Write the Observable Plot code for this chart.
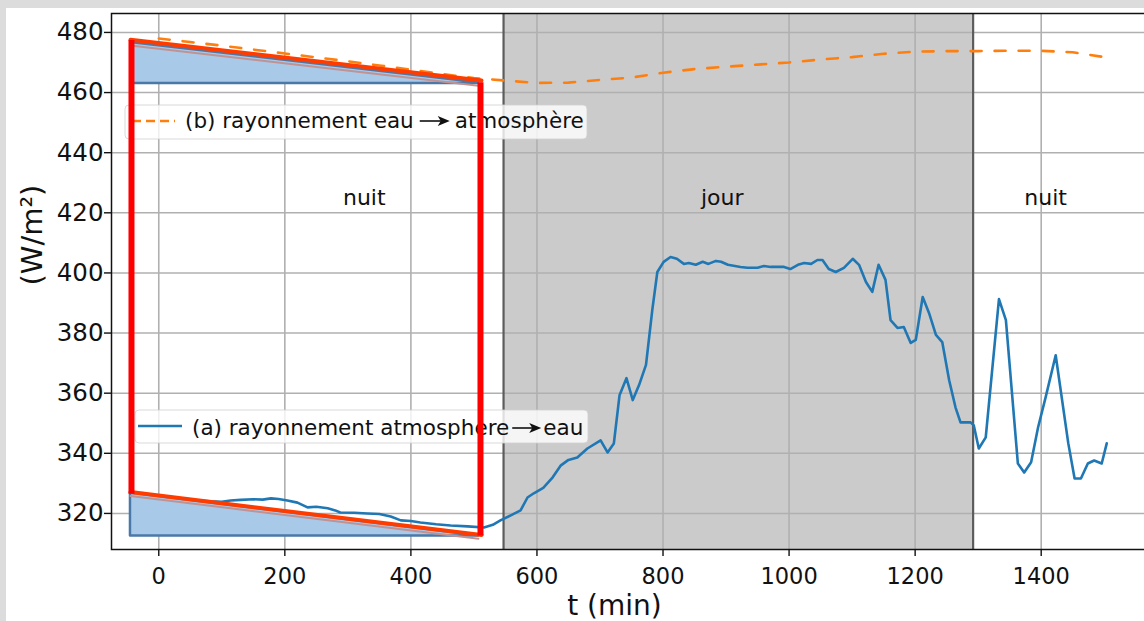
<!DOCTYPE html>
<html><head><meta charset="utf-8">
<script src="https://cdn.jsdelivr.net/npm/d3@7"></script>
<script src="https://cdn.jsdelivr.net/npm/@observablehq/plot@0.6"></script>
<style>
html,body{margin:0;padding:0;background:#dcdcdc;}
#wrap{position:absolute;left:6px;top:8px;width:1138px;height:613px;background:#fff;overflow:hidden;}
svg{font-family:"DejaVu Sans",sans-serif;}
</style></head><body><div id="wrap"></div>
<script>
// (a) rayonnement atmosphere -> eau
const tA = [0,20,40,60,80,100,114,130,150,165,178,190,204,220,236,250,268,280,288,310,331,350,368,384,400,415,440,463,490,516,530,542,560,574,585,595,610,625,638,650,664,680,701,712,722,731,742,752,762,773,783,791,801,812,822,833,841,852,863,872,884,892,903,923,934,950,960,971,992,1002,1014,1024,1035,1045,1053,1063,1074,1087,1101,1111,1122,1132,1142,1153,1161,1172,1182,1193,1201,1212,1222,1233,1243,1254,1264,1272,1288,1293,1301,1312,1333,1344,1363,1373,1384,1395,1407,1423,1443,1453,1463,1474,1484,1496,1504];
const vA = [325.8,325.3,324.8,324.3,324.0,323.9,324.3,324.5,324.7,324.6,325.0,324.8,324.3,323.6,322.0,322.2,321.7,321.0,320.3,320.2,320.0,319.8,319.0,317.7,317.5,317.0,316.4,316.0,315.7,315.3,316.2,317.7,319.5,321.0,325.3,326.7,328.5,332.0,336.0,337.8,338.6,341.6,344.3,340.3,343.3,359.3,365.0,357.7,362.7,369.4,387.7,400.3,403.7,405.3,404.7,403.0,403.3,402.7,403.7,403.0,404.0,403.7,402.7,402.0,401.7,401.7,402.3,402.0,402.0,401.3,402.7,403.3,403.0,404.3,404.3,401.3,400.3,401.7,404.7,402.7,397.0,393.7,402.7,397.7,384.3,381.7,382.0,376.7,377.7,392.0,386.7,379.4,377.0,364.3,355.3,350.3,350.3,349.3,341.6,345.3,391.3,384.3,336.6,333.6,337.0,348.6,358.6,372.6,343.3,331.6,331.6,336.6,337.6,336.6,343.3];
// (b) rayonnement eau -> atmosphère
const tB = [0,50,100,150,200,250,300,350,400,450,500,550,600,650,700,750,800,850,900,950,1000,1050,1100,1150,1200,1250,1300,1350,1400,1450,1500];
const vB = [478.0,476.8,475.6,474.3,473.0,471.7,470.4,469.0,467.6,466.2,464.8,464.0,463.2,463.3,464.2,465.0,466.6,467.8,468.6,469.3,470.0,471.0,471.8,472.9,473.6,473.8,473.8,473.9,473.9,473.4,471.8];
const xTicks = [0,200,400,600,800,1000,1200,1400];
const yTicks = [320,340,360,380,400,420,440,460,480];
const jour = [547,1292];
const periodNames = ["nuit","jour","nuit"];
const periodT = [326,894,1407];
const periodV = [425,425,425];
const legendB = ["(b) rayonnement eau", "atmosphère"];
const legendA = ["(a) rayonnement atmosphere", "eau"];
// annotation overlay (data coordinates)
const triTopT = [-41.7,507.2], triTopV = [476.6,463.3], triTopBase = 463.0;
const triBotT = [-44.9,507.2], triBotV = [326.8,312.6], triBotBase = 312.5;
const redTopT = [-44.9,512], redTopV = [477.6,464.0];
const redBotT = [-44.9,512], redBotV = [327.1,312.8];
const redVT = [-43.3,510.4], redVlo = [326.4,312.5], redVhi = [477.3,463.3];

const X0=-75, X1=1575, Y0=308, Y1=486.3;
const A = tA.map((t,i)=>({t, v:vA[i]}));
const B = tB.map((t,i)=>({t, v:vB[i]}));
const zip = (ts,vs)=>ts.map((t,i)=>({t, v:vs[i]}));
const triTop = zip(triTopT, triTopV), triBot = zip(triBotT, triBotV);
const redTop = zip(redTopT, redTopV), redBot = zip(redBotT, redBotV);
const redV = redVT.map((t,i)=>({t, lo:redVlo[i], hi:redVhi[i]}));
const periods = periodNames.map((n,i)=>({n, t:periodT[i], v:periodV[i]}));
const span = [{a:jour[0], b:jour[1]}];

const plot = Plot.plot({
  width:1146, height:613, marginLeft:105, marginRight:1, marginTop:5, marginBottom:72,
  style:{fontFamily:"DejaVu Sans", background:"transparent", color:"#111", maxWidth:"none"},
  x:{domain:[X0,X1]}, y:{domain:[Y0,Y1]},
  marks:[
    Plot.rect(span, {x1:"a", x2:"b", y1:Y0, y2:Y1, fill:"#cbcbcb"}),
    Plot.gridX(xTicks, {stroke:"#b0b0b0", strokeOpacity:1, strokeWidth:1.6}),
    Plot.gridY(yTicks, {stroke:"#b0b0b0", strokeOpacity:1, strokeWidth:1.6}),
    Plot.ruleX(jour, {y1:Y0, y2:Y1, stroke:"#5c5c5c", strokeWidth:2.2}),
    Plot.frame({stroke:"#111", strokeWidth:1.5}),
    Plot.axisX(xTicks, {fontSize:22.5, tickSize:7, tickPadding:12, strokeWidth:1.4, label:null, tickFormat:d=>String(d)}),
    Plot.axisY(yTicks, {fontSize:24.5, tickSize:7, tickPadding:1, strokeWidth:1.4, label:null, tickFormat:d=>String(d)}),
    Plot.text(["t (min)"], {x:723, frameAnchor:"bottom", dy:65, lineAnchor:"bottom", fontSize:28, fill:"#111"}),
    Plot.text(["(W/m²)"], {y:395.8, frameAnchor:"left", dx:-79, rotate:-90, fontSize:29, fill:"#111"}),
    Plot.text(periods, {x:"t", y:"v", text:"n", fontSize:22, fill:"#111"}),
    Plot.line(B, {x:"t", y:"v", stroke:"#ff7f0e", strokeWidth:2.6, strokeDasharray:"11,13"}),
    Plot.line(A, {x:"t", y:"v", stroke:"#1f77b4", strokeWidth:2.6}),
    Plot.areaY(triTop, {x:"t", y1:triTopBase, y2:"v", fill:"#a9c9e9", stroke:"#4a78a8", strokeWidth:2.5}),
    Plot.areaY(triBot, {x:"t", y1:triBotBase, y2:"v", fill:"#a9c9e9", stroke:"#4a78a8", strokeWidth:2.5}),
    Plot.line(triTop, {x:"t", y:"v", stroke:"#c29292", strokeWidth:2, dy:3}),
    Plot.line(triBot, {x:"t", y:"v", stroke:"#c29292", strokeWidth:2, dy:3}),
    Plot.line(redTop, {x:"t", y:"v", stroke:"#ff3c00", strokeWidth:4}),
    Plot.line(redBot, {x:"t", y:"v", stroke:"#ff3c00", strokeWidth:4}),
    Plot.ruleX(redV, {x:"t", y1:"lo", y2:"hi", stroke:"#ff0000", strokeWidth:6})
  ]
});
document.getElementById("wrap").appendChild(plot);

// legends, inserted below the annotation overlay
const anchor = plot.querySelector('[aria-label="area"]');
function arrow(g, x0, base, w){
  const yc = base - 7;
  g.append("line").attr("x1",x0).attr("x2",x0+w-6).attr("y1",yc).attr("y2",yc).attr("stroke","#111").attr("stroke-width",1.6);
  g.append("path").attr("d",`M${x0+w},${yc} L${x0+w-12},${yc-5} L${x0+w-9},${yc} L${x0+w-12},${yc+5} Z`).attr("fill","#111");
}
function legend(box, sample, tx, base, parts, gap1, aw, gap2){
  const g = d3.create("svg:g").attr("text-anchor","start");
  g.append("rect").attr("x",box[0]).attr("y",box[1]).attr("width",box[2]).attr("height",box[3]).attr("rx",4)
    .attr("fill","#fff").attr("fill-opacity",0.8).attr("stroke","#d0d0d0").attr("stroke-opacity",0.8);
  g.append("line").attr("x1",sample[0]).attr("x2",sample[1]).attr("y1",sample[2]).attr("y2",sample[2])
    .attr("stroke",sample[3]).attr("stroke-width",2.6).attr("stroke-dasharray",sample[4]);
  const t1 = g.append("text").attr("x",tx).attr("y",base).attr("font-size",21.5).attr("fill","#111").text(parts[0]);
  if (anchor) plot.insertBefore(g.node(), anchor); else plot.appendChild(g.node());
  const w1 = t1.node().getComputedTextLength();
  const ax = tx + w1 + gap1;
  arrow(g, ax, base, aw);
  g.append("text").attr("x",ax+aw+gap2).attr("y",base).attr("font-size",21.5).attr("fill","#111").text(parts[1]);
}
legend([119,97,462,34],[126,169,113,"#ff7f0e","9,5"],179,120,legendB,6,30,5);
legend([129,402,453,33],[132,176,418,"#1f77b4",null],186,427,legendA,3,29,2);
</script></body></html>
